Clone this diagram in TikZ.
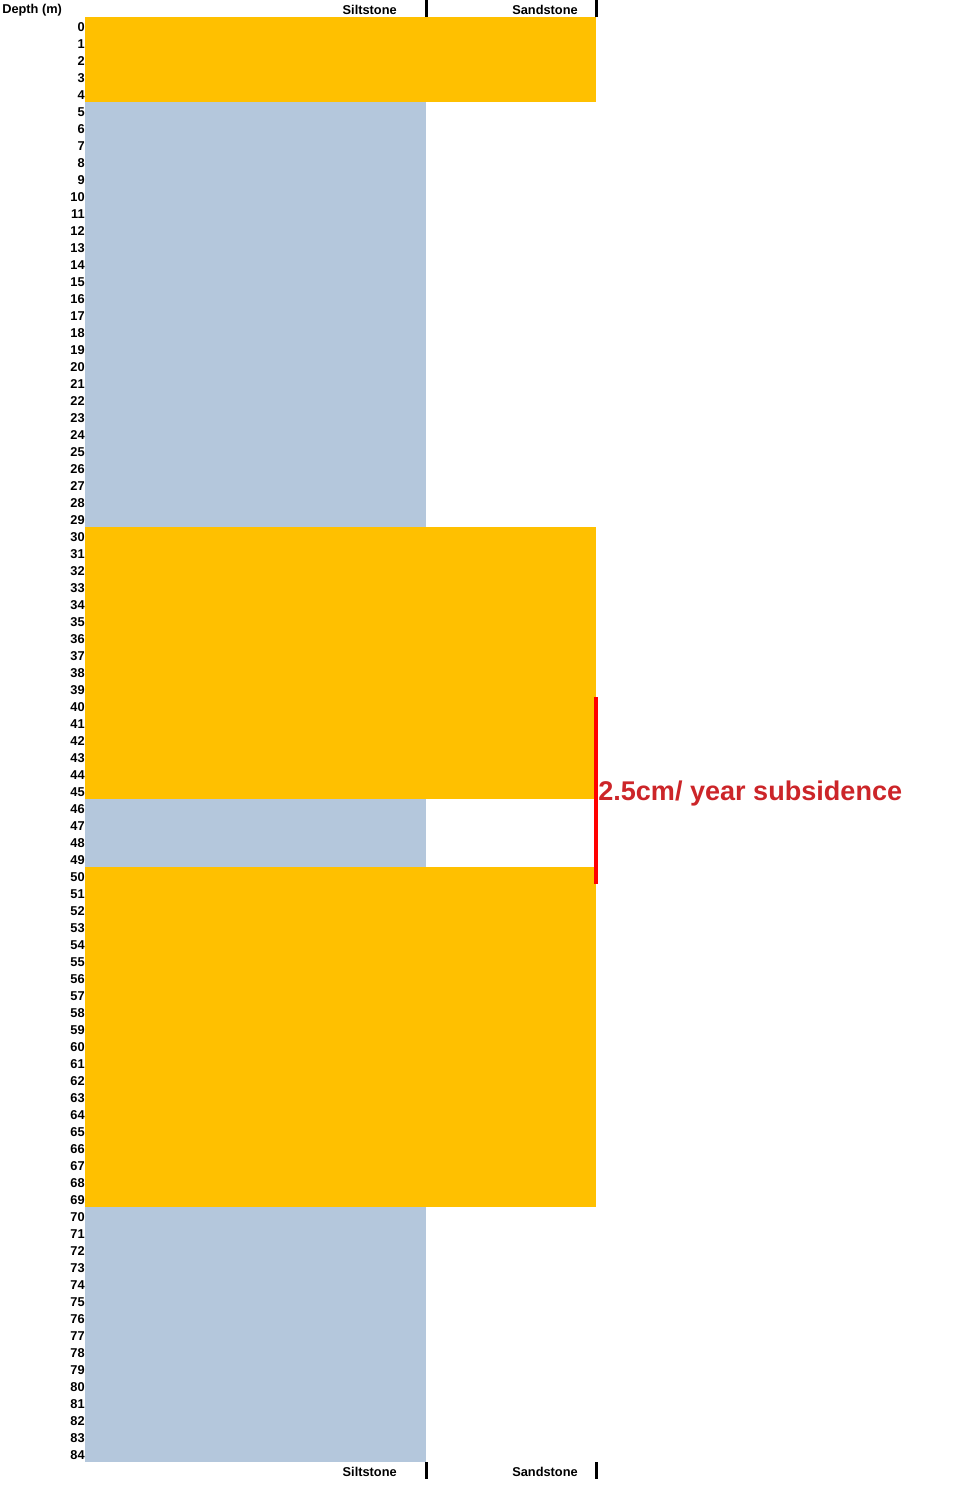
\documentclass[tikz,border=0pt]{standalone}
\usepackage{fontspec}
\setmainfont{Liberation Sans}
\usepackage{xcolor}
\usepackage{tikz}
\definecolor{sandcol}{HTML}{FFC000}
\definecolor{siltcol}{HTML}{B4C7DC}
\definecolor{notecol}{HTML}{CC2529}
\newcommand{\rowh}{17}

\begin{document}
\begin{tikzpicture}[x=0.75pt, y=-0.75pt,
    lbl/.style={font=\fontsize{9.6}{10}\selectfont\bfseries, inner sep=0pt},
    tick/.style={line width=2.25pt, black}]

    \useasboundingbox (0,0) rectangle (970,1485);

    % Sandstone beds (reach the right column)
    \fill[sandcol] (85,17) rectangle (596,102);
    \fill[sandcol] (85,527) rectangle (596,799);
    \fill[sandcol] (85,867) rectangle (596,1207);

    % Siltstone beds
    \fill[siltcol] (85,102) rectangle (426,527);
    \fill[siltcol] (85,799) rectangle (426,867);
    \fill[siltcol] (85,1207) rectangle (426,1462);

    % Depth scale
    \node[lbl, anchor=west] (depth) at (2,10) {Depth (m)};
    \foreach \d in {0,...,84}
        \node[lbl, anchor=east] (d\d) at (85,{17+\rowh*\d+10}) {\d};

    % Column heads, top and bottom
    \node[lbl, anchor=east] (silttop) at (397,10) {Siltstone};
    \node[lbl, anchor=east] (sandtop) at (578,10) {Sandstone};
    \node[lbl, anchor=east] (siltbot) at (397,1472) {Siltstone};
    \node[lbl, anchor=east] (sandbot) at (578,1472) {Sandstone};
    \draw[tick] (426,0) -- (426,17);
    \draw[tick] (596,0) -- (596,17);
    \draw[tick] (426,1462) -- (426,1479);
    \draw[tick] (596,1462) -- (596,1479);

    % Subsidence marker
    \draw[red, line width=2.6pt] (596,697) -- (596,884);
    \node[font=\fontsize{20.3}{22}\selectfont\bfseries, text=notecol,
        anchor=west, inner sep=0pt] (subs) at (598,793) {2.5cm/ year subsidence};

\end{tikzpicture}
\end{document}
